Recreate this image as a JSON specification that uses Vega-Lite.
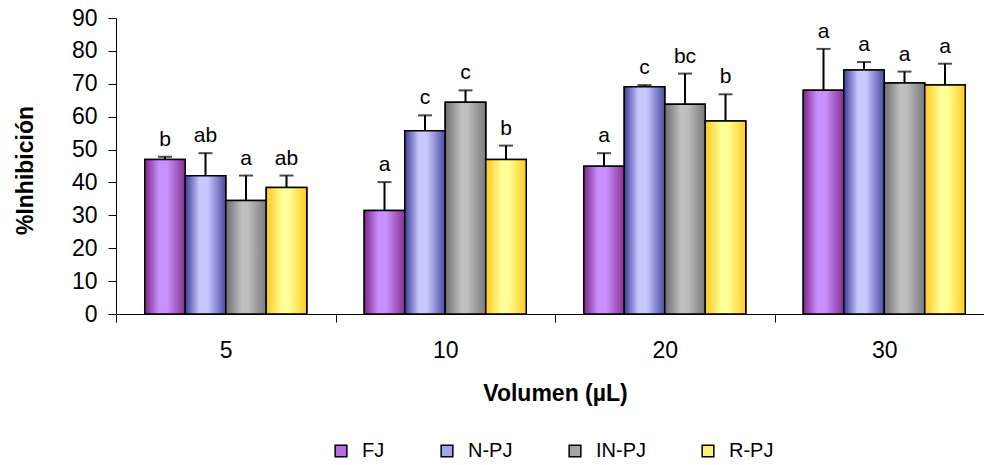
{
  "$schema": "https://vega.github.io/schema/vega-lite/v6.json",
  "autosize": {"type": "none"},
  "padding": {"left": 116, "top": 18, "right": 0, "bottom": 151},
  "width": 868,
  "height": 296,
  "background": "white",
  "config": {
    "view": {"stroke": null},
    "font": "Liberation Sans",
    "axis": {"labelFont": "Liberation Sans", "titleFont": "Liberation Sans", "domainColor": "black", "tickColor": "black", "labelColor": "black", "titleColor": "black", "grid": false, "domainWidth": 1, "tickWidth": 1},
    "axisY": {"values": [0, 10, 20, 30, 40, 50, 60, 70, 80, 90], "labelOverlap": false, "labelFontSize": 23, "tickSize": 8, "labelPadding": 11, "titleFontSize": 23, "titleFontWeight": "bold", "titleBaseline": "alphabetic", "titleX": -84, "titleY": 152}
  },
  "data": {
    "values": [
      {"vol": "5", "serie": "FJ", "valor": 47.0, "sup": 47.8, "letra": "b"},
      {"vol": "5", "serie": "N-PJ", "valor": 42.0, "sup": 48.9, "letra": "ab"},
      {"vol": "5", "serie": "IN-PJ", "valor": 34.5, "sup": 42.1, "letra": "a"},
      {"vol": "5", "serie": "R-PJ", "valor": 38.5, "sup": 42.1, "letra": "ab"},
      {"vol": "10", "serie": "FJ", "valor": 31.5, "sup": 40.1, "letra": "a"},
      {"vol": "10", "serie": "N-PJ", "valor": 55.7, "sup": 60.4, "letra": "c"},
      {"vol": "10", "serie": "IN-PJ", "valor": 64.4, "sup": 68.0, "letra": "c"},
      {"vol": "10", "serie": "R-PJ", "valor": 47.0, "sup": 51.2, "letra": "b"},
      {"vol": "20", "serie": "FJ", "valor": 44.9, "sup": 48.9, "letra": "a"},
      {"vol": "20", "serie": "N-PJ", "valor": 69.1, "sup": 69.6, "letra": "c"},
      {"vol": "20", "serie": "IN-PJ", "valor": 63.8, "sup": 73.1, "letra": "bc"},
      {"vol": "20", "serie": "R-PJ", "valor": 58.7, "sup": 66.8, "letra": "b"},
      {"vol": "30", "serie": "FJ", "valor": 68.0, "sup": 80.6, "letra": "a"},
      {"vol": "30", "serie": "N-PJ", "valor": 74.2, "sup": 76.6, "letra": "a"},
      {"vol": "30", "serie": "IN-PJ", "valor": 70.2, "sup": 73.7, "letra": "a"},
      {"vol": "30", "serie": "R-PJ", "valor": 69.6, "sup": 76.1, "letra": "a"}
    ]
  },
  "encoding": {
    "x": {
      "field": "vol", "type": "nominal", "sort": ["5", "10", "20", "30"],
      "scale": {"range": [0, 878], "paddingInner": 0, "paddingOuter": 0},
      "axis": {"title": "Volumen (µL)", "labelAngle": 0, "labelFontSize": 23, "labelPadding": 17, "tickSize": 8, "tickBand": "extent", "titleFontSize": 23, "titleFontWeight": "bold", "titleBaseline": "alphabetic", "titleY": 86, "titleX": 439}
    },
    "xOffset": {"field": "serie", "type": "nominal", "sort": ["FJ", "N-PJ", "IN-PJ", "R-PJ"], "scale": {"paddingInner": 0, "paddingOuter": 0.71}},
    "y": {
      "field": "valor", "type": "quantitative",
      "scale": {"domain": [0, 90], "nice": false},
      "axis": {"title": "%Inhibición", "values": [0, 10, 20, 30, 40, 50, 60, 70, 80, 90], "labelOverlap": false}
    }
  },
  "layer": [
    {
      "mark": {"type": "rule", "color": "black", "strokeWidth": 2},
      "encoding": {
        "y2": {"field": "sup"}
      }
    },
    {
      "mark": {"type": "tick", "color": "black", "size": 14, "thickness": 2},
      "encoding": {
        "y": {"field": "sup", "type": "quantitative", "axis": {"title": "%Inhibición", "values": [0, 10, 20, 30, 40, 50, 60, 70, 80, 90], "labelOverlap": false}}
      }
    },
    {
      "mark": {"type": "bar", "stroke": "black", "strokeWidth": 1.5, "fillOpacity": 1},
      "encoding": {
        "fill": {
          "field": "serie", "type": "nominal",
          "scale": {
            "domain": ["FJ", "N-PJ", "IN-PJ", "R-PJ"],
            "range": ["#b46ee6", "#a4a4ec", "#a6a6a6", "#ffee77"]
          },
          "legend": {
            "title": null, "orient": "none", "direction": "horizontal", "legendX": 215, "legendY": 423,
            "symbolType": "square", "symbolSize": 137, "symbolStrokeColor": "black", "symbolStrokeWidth": 1.5, "symbolOpacity": 1,
            "labelFontSize": 20, "labelColor": "black", "labelOffset": 11, "columnPadding": 52
          }
        }
      }
    },
    {
      "mark": {"type": "bar", "stroke": "black", "strokeWidth": 1.5, "fillOpacity": 1},
      "encoding": {
        "fill": {
          "condition": [
            {"test": "datum.serie === 'FJ'", "value": {"gradient": "linear", "x1": 0, "y1": 0, "x2": 1, "y2": 0, "stops": [{"offset": 0, "color": "#7e2488"}, {"offset": 0.35, "color": "#c890ff"}, {"offset": 0.55, "color": "#c890ff"}, {"offset": 1, "color": "#84308e"}]}},
            {"test": "datum.serie === 'N-PJ'", "value": {"gradient": "linear", "x1": 0, "y1": 0, "x2": 1, "y2": 0, "stops": [{"offset": 0, "color": "#3c3c96"}, {"offset": 0.35, "color": "#c8c8ff"}, {"offset": 0.55, "color": "#c8c8ff"}, {"offset": 1, "color": "#4a4aa2"}]}},
            {"test": "datum.serie === 'IN-PJ'", "value": {"gradient": "linear", "x1": 0, "y1": 0, "x2": 1, "y2": 0, "stops": [{"offset": 0, "color": "#6e6e6e"}, {"offset": 0.4, "color": "#c0c0c0"}, {"offset": 0.55, "color": "#bebebe"}, {"offset": 1, "color": "#7a7a7a"}]}}
          ],
          "value": {"gradient": "linear", "x1": 0, "y1": 0, "x2": 1, "y2": 0, "stops": [{"offset": 0, "color": "#ffc820"}, {"offset": 0.4, "color": "#ffff99"}, {"offset": 0.55, "color": "#ffff99"}, {"offset": 1, "color": "#ffcc22"}]}
        }
      }
    },
    {
      "mark": {"type": "text", "fontSize": 21, "color": "black", "baseline": "alphabetic", "dy": -11},
      "encoding": {
        "y": {"field": "sup", "type": "quantitative", "axis": {"title": "%Inhibición", "values": [0, 10, 20, 30, 40, 50, 60, 70, 80, 90], "labelOverlap": false}},
        "text": {"field": "letra"}
      }
    }
  ]
}
